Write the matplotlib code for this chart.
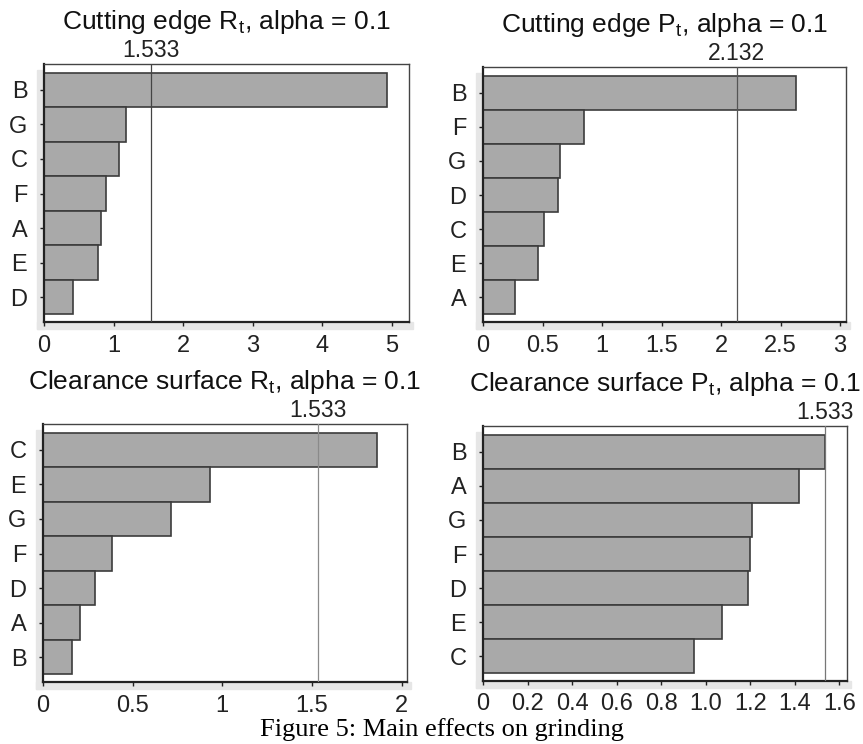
import matplotlib
matplotlib.use('Agg')
import matplotlib.pyplot as plt
from matplotlib.patches import Rectangle

plt.rcParams['font.family'] = ['Liberation Sans', 'DejaVu Sans']

# - Data (top bar first)
titles = ['Cutting edge R$_\\mathregular{t}$, alpha = 0.1',
          'Cutting edge P$_\\mathregular{t}$, alpha = 0.1',
          'Clearance surface R$_\\mathregular{t}$, alpha = 0.1',
          'Clearance surface P$_\\mathregular{t}$, alpha = 0.1']
factors_1 = ['B', 'G', 'C', 'F', 'A', 'E', 'D']
effects_1 = [4.93, 1.18, 1.08, 0.89, 0.82, 0.77, 0.42]
factors_2 = ['B', 'F', 'G', 'D', 'C', 'E', 'A']
effects_2 = [2.63, 0.85, 0.65, 0.63, 0.51, 0.46, 0.27]
factors_3 = ['C', 'E', 'G', 'F', 'D', 'A', 'B']
effects_3 = [1.86, 0.93, 0.714, 0.387, 0.29, 0.208, 0.16]
factors_4 = ['B', 'A', 'G', 'F', 'D', 'E', 'C']
effects_4 = [1.533, 1.42, 1.208, 1.20, 1.19, 1.074, 0.949]
limits = [1.533, 2.132, 1.533, 1.533]
xmax = [5.25, 3.05, 2.03, 1.634]
ticks_1 = [0, 1, 2, 3, 4, 5]
ticks_2 = [0, 0.5, 1, 1.5, 2, 2.5, 3]
ticks_3 = [0, 0.5, 1, 1.5, 2]
ticks_4 = [0, 0.2, 0.4, 0.6, 0.8, 1.0, 1.2, 1.4, 1.6]
labels_1 = ['0', '1', '2', '3', '4', '5']
labels_2 = ['0', '0.5', '1', '1.5', '2', '2.5', '3']
labels_3 = ['0', '0.5', '1', '1.5', '2']
labels_4 = ['0', '0.2', '0.4', '0.6', '0.8', '1.0', '1.2', '1.4', '1.6']

W, H = 863, 744
fig = plt.figure(figsize=(W / 100, H / 100), dpi=100)

# axes boxes in pixels: left, top, right, bottom
boxes = [(44, 64, 409, 322), (483, 67, 846, 322),
         (43, 424, 407, 682), (483, 426, 847, 681)]
panels = [(factors_1, effects_1, ticks_1, labels_1),
          (factors_2, effects_2, ticks_2, labels_2),
          (factors_3, effects_3, ticks_3, labels_3),
          (factors_4, effects_4, ticks_4, labels_4)]
vcolors = ['#444444', '#555555', '#8a8a8a', '#777777']

for i, (fac, eff, tks, tls) in enumerate(panels):
    l, t, r, b = boxes[i]
    ax = fig.add_axes([l / W, 1 - b / H, (r - l) / W, (b - t) / H])
    # light grey strip outside left and bottom spines
    g = 7
    fig.patches.append(Rectangle(((l - g) / W, 1 - (b + g) / H), g / W, (b + g - t - 6) / H,
                                 transform=fig.transFigure, color='#e6e6e6', zorder=-5))
    fig.patches.append(Rectangle(((l - g) / W, 1 - (b + g) / H), (r - l + g + 4) / W, g / H,
                                 transform=fig.transFigure, color='#e6e6e6', zorder=-5))
    pos = list(range(len(fac) - 1, -1, -1))
    ax.barh(pos, eff, height=1.0, color='#a9a9a9', edgecolor='#3c3c3c', linewidth=1.2, zorder=2)
    ax.axvline(limits[i], color=vcolors[i], linewidth=0.9, zorder=3)
    ax.set_xlim(0, xmax[i])
    ax.set_ylim(-0.72, 6.75)
    ax.set_yticks(pos)
    ax.set_yticklabels(fac)
    ax.set_xticks(tks)
    ax.set_xticklabels(tls)
    ax.tick_params(axis='both', direction='out', labelsize=17, colors='#222222', length=3, width=1)
    ax.tick_params(axis='y', pad=9)
    ax.tick_params(axis='x', pad=6)
    for s in ['left', 'bottom']:
        ax.spines[s].set_linewidth(1.6)
        ax.spines[s].set_color('#222222')
    for s in ['top', 'right']:
        ax.spines[s].set_linewidth(1.0)
        ax.spines[s].set_color('#444444')
    ax.set_title(titles[i], fontsize=19, pad=25, color='#111111')
    ax.annotate('{:.3f}'.format(limits[i]), xy=(limits[i], 1), xycoords=('data', 'axes fraction'),
                xytext=(0, 1.5), textcoords='offset points', ha='center', va='bottom',
                fontsize=16.5, color='#222222')

fig.text(442 / W, 1 - 736 / H, 'Figure 5: Main effects on grinding', ha='center', va='baseline',
         fontsize=19, family=['Liberation Serif', 'DejaVu Serif'], color='black')

plt.savefig('out.png', dpi=100)
